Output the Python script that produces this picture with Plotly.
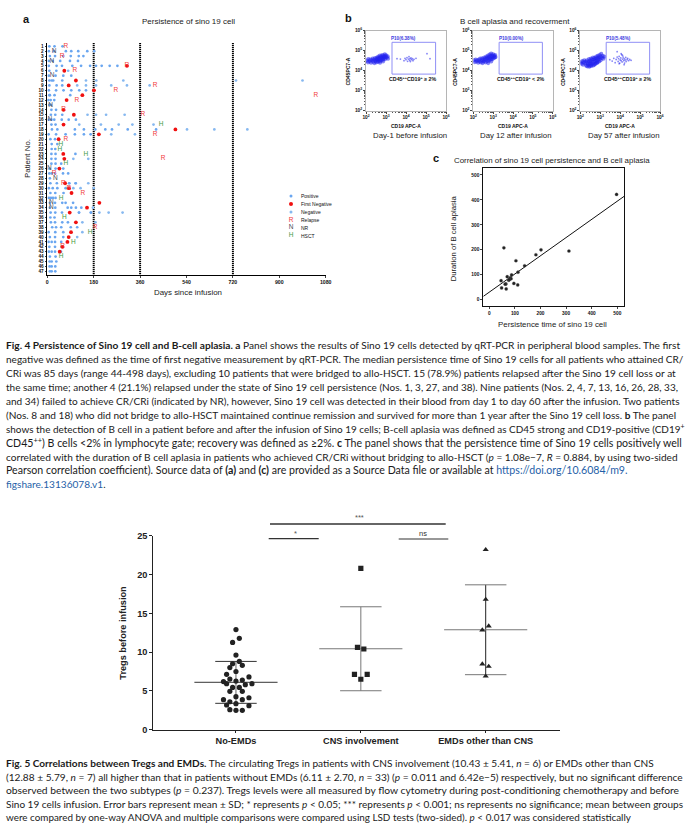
import numpy as np
import plotly.graph_objects as go

W, H = 689, 826

# ---------- Panel a data (days since infusion, one list per patient 1..47)
POSITIVE = [
 [8,28,59],[6,26,72,93,120,155,182],[10,30,62,91,122,140],[6,21,50,88,119],
 [6,36,57,97,131,166,189,211,242,272],[8,35],[6,32,62,93],[8,17,23,58],
 [8,36,58],[6,34,63,93,124,150],[8,10,28,89],[4,13,27],[8,14],[16,34],
 [14,31,58],[6,16,27,56,83,111],[16,32],[18,39,107,142,186,225,251,312,422],
 [5,34,71,107,142,168],[12,30],[17,39],[17,31],[16,32,109],[16,32],[16,32,54],
 [9,32,45,62],[8,17,30,61,81],[10],[12,37,85,110],[6,21,39,71],[12,31,63],
 [6,14,22,32],[10,30,58,71,100],[10,31,79,93,111,132],[13,31,57,123,169],
 [12,28],[14,30,58,80],[19,34,54,91,116],[5,31,62],[10,30,62],[5,17,30,54],
 [8,30,56],[6,17,30,53],[10,32],[9,17,35],[9,17,31],[10,17,31],
]
NEGATIVE = [
 [],[],[],[],[],[81],[],[150,190,295,732,990],[116,150,189,248,309,397],[],[],[],
 [],[],[156,189,228,300],[],[124,208,277,330,412],[542,648,776],[248,340],[],[],[],
 [],[101,159],[],[],[],[],[85,110,159],[101,129,180],[],[],[],[177],
 [123,169,202,238,292],[],[136,187],[],[136],[116],[],[],[],[],[],[],[],
]
FIRST_NEG = [None,None,None,None,309,66,None,111,83,181,136,75,None,63,103,None,63,497,
             200,44,None,None,62,66,None,47,None,None,69,84,94,None,202,154,87,None,111,
             None,92,83,78,59,48,None,None,None,None]
RELAPSE = {1:72,3:57,5:309,6:107,9:418,10:266,11:1042,12:115,14:63,15:371,19:418,20:72,
           24:449,27:26,29:62,30:84,31:138,38:185,42:59}
NR = {2:26,4:18,7:19,13:13,16:10,26:8,28:31,33:16,34:16}
HSCT = {17:441,21:53,22:49,23:150,25:72,32:54,36:66,39:166,41:101,44:54}
VLINES = [180,360,720]
A_XTICKS = [0,180,360,540,720,900,1080]

# ---------- Panel b data (log10 units)
B1_X = [2.05,2.10,2.12,2.18,2.22,2.25,2.30,2.33,2.36,2.40,2.42,2.45,2.48,2.50,2.52,2.55,2.56,2.58,2.60,2.62,2.64,2.66,2.68,2.70,2.72,2.74,2.76,2.78,2.80,2.82,2.84,2.86,2.88,2.90,2.92,2.94,2.96,2.98,3.00,3.04,3.08,3.10,2.70,2.85,
        3.55,3.72,3.90,3.95,4.00,4.05,4.08,4.12,4.15,4.18,4.20,4.22,4.25,4.28,4.32,4.35,4.40,4.50,5.20,5.05]
B1_Y = [4.50,4.42,4.58,4.47,4.55,4.40,4.52,4.60,4.45,4.55,4.38,4.63,4.48,4.57,4.42,4.66,4.52,4.60,4.45,4.70,4.55,4.63,4.48,4.75,4.58,4.67,4.52,4.72,4.62,4.78,4.55,4.68,4.60,4.74,4.65,4.82,4.58,4.70,4.77,4.66,4.72,4.60,4.40,4.46,
        4.60,4.58,4.50,4.62,4.55,4.65,4.47,4.58,4.70,4.52,4.60,4.46,4.64,4.55,4.60,4.50,4.57,4.62,4.60,4.85]
B2_X = [2.03,2.08,2.12,2.16,2.20,2.25,2.28,2.32,2.35,2.38,2.42,2.45,2.47,2.50,2.52,2.55,2.57,2.60,2.62,2.65,2.67,2.69,2.72,2.74,2.76,2.78,2.80,2.82,2.84,2.86,2.88,2.90,2.92,2.94,2.96,2.98,3.00,3.02,3.05,3.08,3.10,3.12,2.75,2.90]
B2_Y = [4.52,4.43,4.56,4.46,4.52,4.40,4.55,4.47,4.60,4.42,4.52,4.62,4.38,4.55,4.46,4.66,4.50,4.60,4.42,4.70,4.55,4.64,4.48,4.75,4.60,4.68,4.52,4.80,4.62,4.72,4.56,4.85,4.66,4.76,4.58,4.70,4.82,4.62,4.74,4.66,4.78,4.68,4.38,4.46]
B3_X = [2.02,2.06,2.10,2.14,2.18,2.20,2.24,2.28,2.30,2.34,2.36,2.38,2.42,2.44,2.46,2.48,2.50,2.52,2.54,2.56,2.58,2.60,2.62,2.64,2.66,2.68,2.70,2.72,2.74,2.76,2.78,2.80,2.82,2.84,2.86,2.88,2.90,2.92,2.94,2.96,2.98,3.00,3.02,3.05,3.08,3.12,3.16,3.20,2.45,2.55,2.65,2.75,2.85,2.35,
        3.48,3.60,3.68,3.75,3.80,3.85,3.90,3.92,3.95,3.98,4.00,4.03,4.05,4.08,4.10,4.12,4.15,4.18,4.20,4.22,4.25,4.28,4.30,4.35,4.38,4.42,4.48,4.55,3.85,4.05,4.20,3.95,4.12]
B3_Y = [4.42,4.35,4.48,4.30,4.42,4.52,4.36,4.46,4.25,4.52,4.38,4.30,4.46,4.58,4.36,4.25,4.50,4.40,4.60,4.30,4.46,4.56,4.36,4.66,4.44,4.56,4.30,4.64,4.48,4.58,4.38,4.70,4.50,4.62,4.42,4.74,4.56,4.66,4.46,4.78,4.60,4.70,4.52,4.84,4.64,4.74,4.60,4.70,4.20,4.24,4.26,4.34,4.40,4.22,
        4.55,4.48,4.62,4.40,4.56,4.68,4.46,4.60,4.72,4.38,4.54,4.64,4.50,4.80,4.44,4.58,4.68,4.50,4.60,4.38,4.54,4.66,4.46,4.56,4.62,4.50,4.56,4.52,4.95,4.85,4.30,4.35,4.76]
B_TICKS = [2,3,4,5,6]
B_TICKTEXT = ["10<sup>2</sup>","10<sup>3</sup>","10<sup>4</sup>","10<sup>5</sup>","10<sup>6</sup>"]
GATE_X = [3.30,5.48]
GATE_Y = [3.83,5.42]

# ---------- Panel c data
C_X = [497,57,202,182,311,104,138,112,87,70,46,81,76,85,65,62,96,111,48,66,78]
C_Y = [422,208,200,180,195,156,136,110,99,92,76,87,78,84,63,62,65,59,47,43,80]
C_FIT_X = [-23.4,526]
C_FIT_Y = [13,414]
C_TICKS = [0,100,200,300,400,500]

# ---------- Bottom panel data
CATS = ["No-EMDs","CNS involvement","EMDs other than CNS"]
NOEMD_X = [1,1.027,.973,1,1.027,.973,.951,1.051,1,.925,1.104,.951,1.051,1,.9,.925,1.075,1.128,.973,1.027,.951,1.051,1,1.104,.9,.951,1.051,1,.925,1.104,.951,1,1.051]
NOEMD_Y = [12.9,11.77,11.25,9.62,8.8,8.5,8.0,8.3,7.5,7.13,6.8,6.53,6.4,6.27,6.2,5.93,5.8,5.93,5.45,5.45,4.94,4.94,4.25,4.12,3.87,3.6,3.87,3.35,3.18,3.09,2.58,2.5,2.5]
CNS_X = [2,1.973,2.024,1.949,2.051,2]
CNS_Y = [20.8,10.6,10.4,7.13,7.13,6.5]
EMD_X = [3,3,3.024,2.973,2.973,3.024,3]
EMD_Y = [23.2,16.8,13.36,12.84,8.46,8.16,6.9]
MEANS = [6.11,10.43,12.88]
SD_LOW = [3.4,5.02,7.09]
SD_HIGH = [8.8,15.84,18.67]
Y5_TICKS = [0,5,10,15,20,25]

CAPTION4 = [
 "<b>Fig. 4 Persistence of Sino 19 cell and B-cell aplasia. a</b> Panel shows the results of Sino 19 cells detected by qRT-PCR in peripheral blood samples. The first",
 "negative was defined as the time of first negative measurement by qRT-PCR. The median persistence time of Sino 19 cells for all patients who attained CR/",
 "CRi was 85 days (range 44-498 days), excluding 10 patients that were bridged to allo-HSCT. 15 (78.9%) patients relapsed after the Sino 19 cell loss or at",
 "the same time; another 4 (21.1%) relapsed under the state of Sino 19 cell persistence (Nos. 1, 3, 27, and 38). Nine patients (Nos. 2, 4, 7, 13, 16, 26, 28, 33,",
 "and 34) failed to achieve CR/CRi (indicated by NR), however, Sino 19 cell was detected in their blood from day 1 to day 60 after the infusion. Two patients",
 "(Nos. 8 and 18) who did not bridge to allo-HSCT maintained continue remission and survived for more than 1 year after the Sino 19 cell loss. <b>b</b> The panel",
 "shows the detection of B cell in a patient before and after the infusion of Sino 19 cells; B-cell aplasia was defined as CD45 strong and CD19-positive (CD19<sup>+</sup>",
 "CD45<sup>++</sup>) B cells &lt;2% in lymphocyte gate; recovery was defined as ≥2%. <b>c</b> The panel shows that the persistence time of Sino 19 cells positively well",
 "correlated with the duration of B cell aplasia in patients who achieved CR/CRi without bridging to allo-HSCT (<i>p</i> = 1.08e−7, <i>R</i> = 0.884, by using two-sided",
 "Pearson correlation coefficient). Source data of <b>(a)</b> and <b>(c)</b> are provided as a Source Data file or available at <span style=\"color:#1f5fa8\">https://doi.org/10.6084/m9.</span>",
 "<span style=\"color:#1f5fa8\">figshare.13136078.v1</span>.",
]
CAPTION5 = [
 "<b>Fig. 5 Correlations between Tregs and EMDs.</b> The circulating Tregs in patients with CNS involvement (10.43 ± 5.41, <i>n</i> = 6) or EMDs other than CNS",
 "(12.88 ± 5.79, <i>n</i> = 7) all higher than that in patients without EMDs (6.11 ± 2.70, <i>n</i> = 33) (<i>p</i> = 0.011 and 6.42e−5) respectively, but no significant difference",
 "observed between the two subtypes (<i>p</i> = 0.237). Tregs levels were all measured by flow cytometry during post-conditioning chemotherapy and before",
 "Sino 19 cells infusion. Error bars represent mean ± SD; * represents <i>p</i> &lt; 0.05; *** represents <i>p</i> &lt; 0.001; ns represents no significance; mean between groups",
 "were compared by one-way ANOVA and multiple comparisons were compared using LSD tests (two-sided). <i>p</i> &lt; 0.017 was considered statistically",
]
CAPTION4_SIZES = [10.15,10.02,10.12,10.0,10.04,10.08,9.95,10.6,10.1,10.6,10.1]
CAPTION5_SIZES = [10.09,10.14,10.3,10.03,9.88]

# ---------- helpers
def fx(px): return px / W
def fy(py): return 1 - py / H
def dom_x(a, b): return [fx(a), fx(b)]
def dom_y(top, bottom): return [fy(bottom), fy(top)]

SANS = "Liberation Sans"
fig = go.Figure()
annos, shapes = [], []

def text(x, y, s, size=7, color="#222", bold=False, angle=0, anchor="center", family=SANS):
    annos.append(dict(xref="paper", yref="paper", x=fx(x), y=fy(y), text=s, showarrow=False,
                      textangle=angle, xanchor=anchor, yanchor="middle", align=anchor,
                      font=dict(size=size, color=color, family=family, weight=700 if bold else 400)))

layout = {}
def axes(n, xdom, ydom, xr, yr, **kw):
    sx = "" if n == 1 else str(n)
    xa = dict(domain=xdom, range=xr, anchor=f"y{sx}", showgrid=False, zeroline=False, fixedrange=True)
    ya = dict(domain=ydom, range=yr, anchor=f"x{sx}", showgrid=False, zeroline=False, fixedrange=True)
    xa.update(kw.get("x", {})); ya.update(kw.get("y", {}))
    layout[f"xaxis{sx}"] = xa; layout[f"yaxis{sx}"] = ya

def rows(d): return list(d.values()), list(d.keys())

# ---------- Panel a
tf = dict(size=4.7, color="#111", family=SANS, weight=700)
axes(1, dom_x(47.3, 325.7), dom_y(43, 275), [0, 1080], [47.76, 0.33],
     x=dict(tickvals=A_XTICKS, ticks="outside", ticklen=2, tickwidth=.8, tickfont=dict(tf, size=5.2), showline=True, linecolor="#000", linewidth=1.1),
     y=dict(tickvals=list(range(1, 48)), ticks="outside", ticklen=1.5, tickwidth=.6, tickfont=tf, showline=True, linecolor="#000", linewidth=1.3))
for v in VLINES:
    fig.add_trace(go.Scatter(x=[v, v], y=[0.33, 47.76], mode="lines", xaxis="x", yaxis="y", showlegend=False,
                             line=dict(color="#000", width=2, dash="1.2px,0.8px"), hoverinfo="skip"))
def flat(lists):
    xs, ys = [], []
    for i, l in enumerate(lists):
        xs += l; ys += [i + 1] * len(l)
    return xs, ys
x_, y_ = flat(NEGATIVE)
fig.add_trace(go.Scatter(x=x_, y=y_, mode="markers", name="Negative", showlegend=False, marker=dict(size=2.7, color="#86b8f0")))
x_, y_ = flat(POSITIVE)
fig.add_trace(go.Scatter(x=x_, y=y_, mode="markers", name="Positive", showlegend=False, marker=dict(size=2.7, color="#6aa6f0")))
fn = [(d, i + 1) for i, d in enumerate(FIRST_NEG) if d is not None]
fig.add_trace(go.Scatter(x=[a for a, _ in fn], y=[b for _, b in fn], mode="markers", name="First Negative",
                         showlegend=False, marker=dict(size=3.8, color="#f01010")))
for name, d, c in (("Relapse", RELAPSE, "#f23a3a"), ("NR", NR, "#4a4a55"), ("HSCT", HSCT, "#3f9a45")):
    xs, ys = rows(d)
    fig.add_trace(go.Scatter(x=xs, y=ys, mode="text", text=[name[0]] * len(xs), name=name, showlegend=False,
                             textposition="middle center", textfont=dict(size=6.5, color=c, family=SANS)))

# legend keys on a full-page pixel axis
axes(7, [0, 1], [0, 1], [0, W], [H, 0], x=dict(visible=False), y=dict(visible=False))
LEG_Y = [196, 204, 212, 220, 227.6, 235.6]
fig.add_trace(go.Scatter(x=[291], y=[LEG_Y[0]], mode="markers", xaxis="x7", yaxis="y7", showlegend=False, marker=dict(size=3, color="#6aa6f0")))
fig.add_trace(go.Scatter(x=[291], y=[LEG_Y[1]], mode="markers", xaxis="x7", yaxis="y7", showlegend=False, marker=dict(size=4, color="#f01010")))
fig.add_trace(go.Scatter(x=[291], y=[LEG_Y[2]], mode="markers", xaxis="x7", yaxis="y7", showlegend=False, marker=dict(size=3, color="#86b8f0")))
for yy, t, c in zip(LEG_Y[3:], "RNH", ("#f23a3a", "#4a4a55", "#3f9a45")):
    fig.add_trace(go.Scatter(x=[291], y=[yy], mode="text", text=[t], xaxis="x7", yaxis="y7", showlegend=False,
                             textfont=dict(size=6.5, color=c, family=SANS)))
for yy, t in zip(LEG_Y, ["Positive", "First Negative", "Negative", "Relapse", "NR", "HSCT"]):
    text(299, yy, t, size=5, anchor="left", color="#111")

text(26, 19, "a", size=11, bold=True, color="#111")
text(188, 21, "Persistence of sino 19 cell", size=8)
text(188, 292, "Days since infusion", size=7.9)
text(27, 159, "Patient No.", size=7.9, angle=-90)

# ---------- Panel b
minor = [np.log10(m) + e for e in (2, 3, 4, 5) for m in (2, 3, 4, 5, 6, 7, 8, 9)]
tfb = dict(size=4.8, color="#111", family=SANS, weight=700)
for n, (l, r), data, p, glab, cap, labx, lx, cx, ylx, capx in (
    (2, (366, 446), (B1_X, B1_Y), "P10(6.38%)", "CD45<sup>++</sup>CD19<sup>+</sup> ≥ 2%", "Day-1 before infusion", 404, 412.7, 405.7, 347.7, 409.7),
    (3, (473.3, 552.7), (B2_X, B2_Y), "P10(0.00%)", "CD45<sup>++</sup>CD19<sup>+</sup> &lt; 2%", "Day 12 after infusion", 511.7, 521, 512.7, 454.3, 516),
    (4, (580.3, 660), (B3_X, B3_Y), "P10(5.48%)", "CD45<sup>++</sup>CD19<sup>+</sup> ≥ 2%", "Day 57 after infusion", 618, 627.7, 620, 562.3, 623.7),
):
    common = dict(tickvals=B_TICKS, ticktext=B_TICKTEXT, ticks="outside", ticklen=2, tickwidth=.6, tickcolor="#444", tickfont=tfb,
                  showline=True, mirror=True, linecolor="#b5b5b5", linewidth=.8,
                  minor=dict(tickvals=minor, ticks="outside", ticklen=1, tickwidth=.4, tickcolor="#555"))
    axes(n, dom_x(l, r), dom_y(30.7, 110.7), [2, 6], [2, 6], x=common, y=common)
    sizes = [4.2 if v < GATE_X[0] else 1.8 for v in data[0]]
    fig.add_trace(go.Scatter(x=data[0], y=data[1], mode="markers", xaxis=f"x{n}", yaxis=f"y{n}", showlegend=False,
                             marker=dict(size=sizes, color="#2020ee", opacity=.55, line=dict(width=0))))
    fig.add_trace(go.Scatter(x=[GATE_X[0], GATE_X[1], GATE_X[1], GATE_X[0], GATE_X[0]],
                             y=[GATE_Y[0], GATE_Y[0], GATE_Y[1], GATE_Y[1], GATE_Y[0]], mode="lines",
                             xaxis=f"x{n}", yaxis=f"y{n}", showlegend=False, line=dict(color="#8f8ff5", width=1)))
    text(labx, 38.3, p, size=4.6, color="#3a3ae0", bold=True)
    text(lx, 79, glab, size=5.3, bold=True, color="#111")
    text(cx, 125.7, "CD19 APC-A", size=5, bold=True, color="#111")
    text(ylx, 71.7, "CD45PC7-A", size=5, bold=True, color="#111", angle=-90)
    text(capx, 135, cap, size=7.8)
text(348, 18, "b", size=11, bold=True, color="#111")
text(514.7, 21, "B cell aplasia and recoverment", size=8)

# ---------- Panel c
tfc = dict(size=4.8, color="#111", family=SANS, weight=700)
cax = dict(tickvals=C_TICKS, ticks="outside", ticklen=2, tickwidth=.7, tickfont=tfc, showline=True, mirror=True, linecolor="#111", linewidth=1)
axes(5, dom_x(483.3, 624), dom_y(168, 306.3), [-23.4, 526], [-26.7, 528], x=cax, y=cax)
fig.add_trace(go.Scatter(x=C_FIT_X, y=C_FIT_Y, mode="lines", xaxis="x5", yaxis="y5", showlegend=False, line=dict(color="#111", width=1)))
fig.add_trace(go.Scatter(x=C_X, y=C_Y, mode="markers", xaxis="x5", yaxis="y5", showlegend=False,
                         marker=dict(size=3.2, color="#222", line=dict(color="#666", width=.3))))
text(436, 158, "c", size=11, bold=True, color="#111")
text(552, 160, "Correlation of sino 19 cell persistence and B cell aplasia", size=7.9)
text(552.7, 324, "Persistence time of sino 19 cell", size=7.9)
text(453.3, 238, "Duration of B cell aplasia", size=7.7, angle=-90)

# ---------- Bottom panel
tf6 = dict(size=9.2, color="#222", family=SANS, weight=700)
axes(6, dom_x(153.3, 560), dom_y(535.7, 729.7), [0.338, 3.595], [0, 25],
     x=dict(tickvals=[1, 2, 3], ticktext=CATS, ticks="outside", ticklen=2.5, tickwidth=1, tickcolor="#222", tickfont=tf6, showline=True, linecolor="#222", linewidth=1),
     y=dict(tickvals=Y5_TICKS, ticks="outside", ticklen=3, tickwidth=1, tickcolor="#222", tickfont=tf6, showline=True, linecolor="#222", linewidth=1))
BAR_C = ["#333", "#777", "#777"]
VERT_C = ["#666", "#777", "#222"]
for i in range(3):
    c = i + 1
    kw = dict(mode="lines", xaxis="x6", yaxis="y6", showlegend=False, hoverinfo="skip")
    fig.add_trace(go.Scatter(x=[c, c], y=[SD_LOW[i], SD_HIGH[i]], line=dict(color=VERT_C[i], width=1), **kw))
    fig.add_trace(go.Scatter(x=[c - .333, c + .333], y=[MEANS[i]] * 2, line=dict(color=BAR_C[i], width=1), **kw))
    for v in (SD_LOW[i], SD_HIGH[i]):
        fig.add_trace(go.Scatter(x=[c - .166, c + .166], y=[v, v], line=dict(color=BAR_C[i], width=1), **kw))
for xs, ys, sym, sz in ((NOEMD_X, NOEMD_Y, "circle", 5.2), (CNS_X, CNS_Y, "square", 5.2), (EMD_X, EMD_Y, "triangle-up", 5.4)):
    fig.add_trace(go.Scatter(x=xs, y=ys, mode="markers", xaxis="x6", yaxis="y6", showlegend=False,
                             marker=dict(symbol=sym, size=sz, color="#222")))
def bracket(x0, x1, y, w=1.3, c="#333"):
    shapes.append(dict(type="line", xref="paper", yref="paper", x0=fx(x0), x1=fx(x1), y0=fy(y), y1=fy(y), line=dict(color=c, width=w)))
bracket(270, 445.7, 524, 1.4)
bracket(268.7, 318.7, 538.7, 1.2)
bracket(398.7, 448.3, 539, 1.2)
text(359.7, 517.5, "***", size=7.5, color="#555")
text(295.3, 533, "*", size=7.5, color="#555")
text(422.7, 533.3, "ns", size=7.5, color="#333")
text(122.7, 633, "Tregs before infusion", size=9.2, bold=True, color="#222", angle=-90)

# ---------- Captions
CAP_FONT = "Lato"
for i, line in enumerate(CAPTION4):
    text(4, 345.3 + 13.9 * i, line, size=CAPTION4_SIZES[i], anchor="left", family=CAP_FONT, color="#1a1a1a")
for i, line in enumerate(CAPTION5):
    text(4, 763 + 13.6 * i, line, size=CAPTION5_SIZES[i], anchor="left", family=CAP_FONT, color="#1a1a1a")

fig.update_layout(width=W, height=H, margin=dict(l=0, r=0, t=0, b=0, autoexpand=False), paper_bgcolor="#fff", plot_bgcolor="rgba(0,0,0,0)",
                  showlegend=False, annotations=annos, shapes=shapes, **layout)
fig.write_html("out.html", post_script="document.body.style.margin='0';", config={"displayModeBar": False})
